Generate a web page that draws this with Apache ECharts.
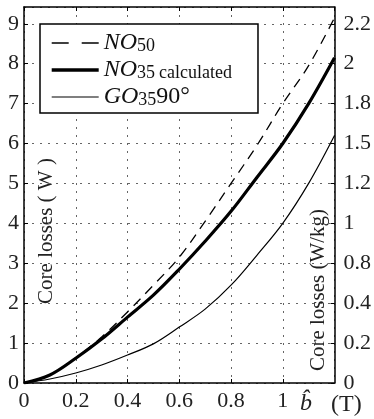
<!DOCTYPE html>
<html>
<head>
<meta charset="utf-8">
<script src="https://cdn.jsdelivr.net/npm/echarts@6/dist/echarts.min.js"></script>
<style>
html,body{margin:0;padding:0;background:#fff;}
#chart{width:374px;height:419px;}
</style>
</head>
<body>
<div id="chart"></div>
<script>
// Flux density b (T)
var bValues = [0, 0.1, 0.2, 0.3, 0.4, 0.5, 0.6, 0.7, 0.8, 0.9, 1.0, 1.1, 1.2];
// Core losses (W)
var no50 = [0, 0.2, 0.63, 1.15, 1.78, 2.45, 3.15, 4.05, 5.0, 5.95, 7.0, 7.95, 9.15];
var no35calc = [0, 0.2, 0.62, 1.1, 1.65, 2.2, 2.85, 3.55, 4.3, 5.15, 6.0, 7.0, 8.15];
var go35 = [0, 0.1, 0.25, 0.45, 0.7, 0.98, 1.4, 1.85, 2.45, 3.2, 4.0, 5.0, 6.2];
// right axis tick labels (W/kg)
var rightTickLabels = ['0', '0.2', '0.4', '0.8', '1', '1.2', '1.5', '1.8', '2', '2.2'];
var seriesNames = ['NO50', 'NO35calc', 'GO35'];

function pairs(xs, ys) { return xs.map(function (x, i) { return [x, ys[i]]; }); }

var FONT = 'Liberation Serif';
var chart = echarts.init(document.getElementById('chart'));
var gridCol = '#666';

chart.setOption({
  backgroundColor: '#fff',
  animation: false,
  grid: { left: 24, right: 38, top: 7, bottom: 36, containLabel: false },
  xAxis: [{
    type: 'value', min: 0, max: 1.2, interval: 0.2, position: 'bottom',
    axisLine: { show: true, onZero: false, lineStyle: { color: '#000', width: 1.5 } },
    axisTick: { show: true, inside: true, length: 4, lineStyle: { color: '#000' } },
    axisLabel: { showMaxLabel: false, margin: 7, color: '#222', fontFamily: FONT, fontSize: 22,
      formatter: function (v) { return String(Math.round(v * 10) / 10); } },
    splitLine: { show: true, lineStyle: { color: gridCol, width: 1, type: [2, 6] } }
  }, {
    type: 'value', min: 0, max: 1.2, interval: 0.2, position: 'top',
    axisLine: { show: true, onZero: false, lineStyle: { color: '#000', width: 1.5 } },
    axisTick: { show: true, inside: true, length: 4, lineStyle: { color: '#000' } },
    axisLabel: { show: false }, splitLine: { show: false }
  }],
  yAxis: [{
    type: 'value', min: 0, max: 9.42, interval: 1, position: 'left',
    axisLine: { show: true, onZero: false, lineStyle: { color: '#000', width: 1.5 } },
    axisTick: { show: true, inside: true, length: 4, lineStyle: { color: '#000' } },
    axisLabel: { showMaxLabel: false, margin: 5, color: '#222', fontFamily: FONT, fontSize: 22,
      formatter: function (v) { return Math.abs(v - Math.round(v)) < 1e-6 ? String(Math.round(v)) : ''; } },
    splitLine: { show: true, lineStyle: { color: gridCol, width: 1, type: [2, 6] } }
  }, {
    type: 'value', min: 0, max: 9.42, interval: 1, position: 'right',
    axisLine: { show: true, onZero: false, lineStyle: { color: '#000', width: 1.5 } },
    axisTick: { show: true, inside: true, length: 4, lineStyle: { color: '#000' } },
    axisLabel: { showMaxLabel: false, margin: 9, color: '#222', fontFamily: FONT, fontSize: 22,
      formatter: function (v) {
        var i = Math.round(v);
        return Math.abs(v - i) < 1e-6 && rightTickLabels[i] !== undefined ? rightTickLabels[i] : '';
      } },
    splitLine: { show: false }
  }],
  legend: {
    orient: 'vertical', left: 40, top: 24,
    padding: [7, 26, 4, 10], itemGap: 3,
    itemWidth: 47, itemHeight: 14,
    backgroundColor: '#fff', borderColor: '#000', borderWidth: 1.5,
    itemStyle: { opacity: 0 },
    data: [
      { name: seriesNames[0], lineStyle: { color: '#000', width: 1.3, type: [17, 13] } },
      { name: seriesNames[1], lineStyle: { color: '#000', width: 3.4, type: 'solid' } },
      { name: seriesNames[2], lineStyle: { color: '#000', width: 1.2, type: 'solid' } }
    ],
    textStyle: {
      fontFamily: FONT, color: '#111',
      rich: {
        it: { fontFamily: FONT, fontStyle: 'italic', fontSize: 24, lineHeight: 24, verticalAlign: 'middle' },
        rm: { fontFamily: FONT, fontSize: 24, lineHeight: 24, verticalAlign: 'middle' },
        sub: { fontFamily: FONT, fontSize: 18, lineHeight: 24, verticalAlign: 'bottom', padding: [6, 0, 0, 0] },
        subw: { fontFamily: FONT, fontSize: 18, lineHeight: 24, verticalAlign: 'bottom', padding: [6, 0, 0, 4] }
      }
    },
    formatter: function (name) {
      if (name === 'NO50') return '{it|NO}{sub|50}';
      if (name === 'NO35calc') return '{it|NO}{sub|35}{subw|calculated}';
      return '{it|GO}{sub|35}{rm|90°}';
    }
  },
  graphic: [
    { type: 'text', x: 46, y: 231, rotation: Math.PI / 2,
      style: { text: 'Core losses ( W )', fontFamily: FONT, fontSize: 21, fill: '#222', align: 'center', verticalAlign: 'middle' } },
    { type: 'text', x: 318, y: 290, rotation: Math.PI / 2,
      style: { text: 'Core losses (W/kg)', fontFamily: FONT, fontSize: 21, fill: '#222', align: 'center', verticalAlign: 'middle' } },
    { type: 'text', x: 300, y: 404,
      style: { text: 'b\u0302', fontFamily: FONT, fontStyle: 'italic', fontSize: 24, fill: '#222', align: 'left', verticalAlign: 'middle' } },
    { type: 'text', x: 331, y: 405,
      style: { text: '(T)', fontFamily: FONT, fontSize: 24, fill: '#222', align: 'left', verticalAlign: 'middle' } }
  ],
  series: [{
    name: 'NO50', type: 'line', symbol: 'none', smooth: 0.35, data: pairs(bValues, no50),
    itemStyle: { color: '#000' },
    lineStyle: { color: '#000', width: 1.3, type: [10, 7] }, z: 3
  }, {
    name: 'NO35calc', type: 'line', symbol: 'none', smooth: 0.35, data: pairs(bValues, no35calc),
    itemStyle: { color: '#000' },
    lineStyle: { color: '#000', width: 3.2 }, z: 4
  }, {
    name: 'GO35', type: 'line', symbol: 'none', smooth: 0.35, data: pairs(bValues, go35),
    itemStyle: { color: '#000' },
    lineStyle: { color: '#000', width: 1.2 }, z: 3
  }]
});
</script>
</body>
</html>
